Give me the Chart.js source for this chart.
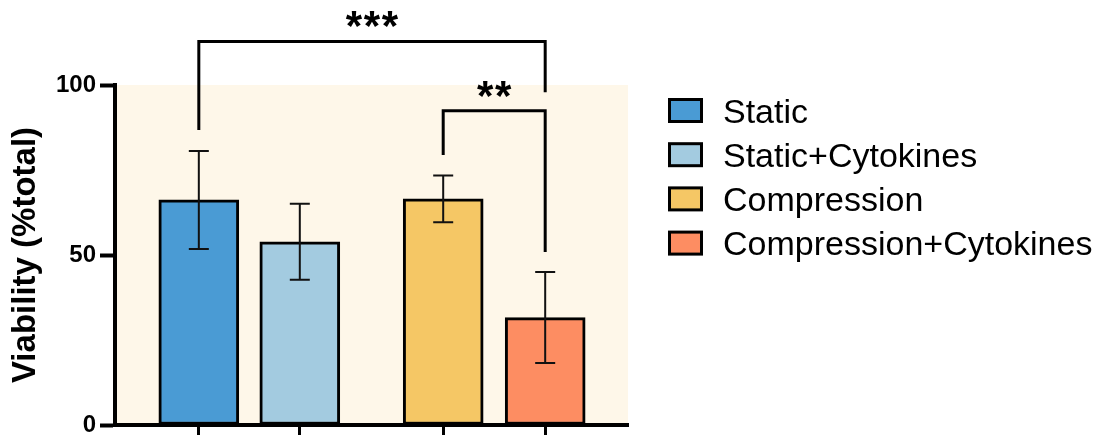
<!DOCTYPE html>
<html>
<head>
<meta charset="utf-8">
<script src="https://cdn.jsdelivr.net/npm/chart.js@4.4.1/dist/chart.umd.min.js"></script>
<style>
  html, body { margin: 0; padding: 0; background: #fff; }
</style>
</head>
<body>
<canvas id="chart" width="1097" height="435"></canvas>
<script>
const groups = ["Static", "Static+Cytokines", "Compression", "Compression+Cytokines"]
const viability = [66.2, 53.9, 66.5, 31.6]
const viabilitySd = [14.4, 11.2, 6.9, 13.4]
const yTicks = [0, 50, 100]
const barColors = ["#4A9BD4", "#A3CBE0", "#F5C765", "#FD8D62"]
// slot of each bar on the x scale (wider gap between the two pairs)
const xSlots = [0.83, 1.83, 3.25, 4.26]
// significance brackets (bar indexes, y values of top line and both ends)
const brackets = [
  { from: 0, to: 3, top: 112.8, leftEnd: 86.8, rightEnd: 97.9, label: "***" },
  { from: 2, to: 3, top: 92.4, leftEnd: 79.4, rightEnd: 50.9, label: "**" },
]

const FONT = "'Liberation Sans', Arial, sans-serif"

const areaFill = {
  id: "areaFill",
  beforeDraw(chart) {
    const { ctx, chartArea: { left, top, right, bottom } } = chart
    ctx.save()
    ctx.fillStyle = "#FEF7E9"
    ctx.fillRect(left, top, right - left, bottom - top)
    ctx.restore()
  }
}

const errorBars = {
  id: "errorBars",
  afterDatasetsDraw(chart) {
    const { ctx, scales: { x, y } } = chart
    ctx.save()
    ctx.strokeStyle = "#111"
    ctx.lineWidth = 2
    viability.forEach((v, i) => {
      const px = x.getPixelForValue(xSlots[i])
      const hi = y.getPixelForValue(v + viabilitySd[i])
      const lo = y.getPixelForValue(v - viabilitySd[i])
      ctx.beginPath()
      ctx.moveTo(px, hi); ctx.lineTo(px, lo)
      ctx.moveTo(px - 10, hi); ctx.lineTo(px + 10, hi)
      ctx.moveTo(px - 10, lo); ctx.lineTo(px + 10, lo)
      ctx.stroke()
    })
    ctx.restore()
  }
}

const annotations = {
  id: "annotations",
  afterDraw(chart) {
    const { ctx, scales: { x, y } } = chart
    ctx.save()
    // brackets + stars
    ctx.strokeStyle = "#000"
    ctx.lineWidth = 3
    ctx.font = "bold 42px " + FONT
    ctx.fillStyle = "#000"
    ctx.textAlign = "center"
    ctx.textBaseline = "alphabetic"
    const m = ctx.measureText("*")
    const starBase = (m.actualBoundingBoxAscent - m.actualBoundingBoxDescent) / 2
    brackets.forEach(b => {
      const x1 = x.getPixelForValue(xSlots[b.from])
      const x2 = x.getPixelForValue(xSlots[b.to])
      const yt = y.getPixelForValue(b.top)
      ctx.beginPath()
      ctx.moveTo(x1, y.getPixelForValue(b.leftEnd))
      ctx.lineTo(x1, yt)
      ctx.lineTo(x2, yt)
      ctx.lineTo(x2, y.getPixelForValue(b.rightEnd))
      ctx.stroke()
      const cx = (x1 + x2) / 2, cy = yt - 22
      const n = b.label.length
      for (let k = 0; k < n; k++) {
        ctx.fillText("*", cx + (k - (n - 1) / 2) * 18, cy + starBase)
      }
    })
    // legend
    ctx.font = "34px " + FONT
    ctx.textAlign = "left"
    ctx.lineWidth = 3
    groups.forEach((g, i) => {
      const cy = 110.5 + i * 44.2
      ctx.fillStyle = barColors[i]
      ctx.fillRect(669.5, cy - 11, 32, 22)
      ctx.strokeRect(669.5, cy - 11, 32, 22)
      ctx.fillStyle = "#000"
      ctx.fillText(g, 723, cy + 12)
    })
    ctx.restore()
  }
}

new Chart(document.getElementById("chart"), {
  type: "bar",
  data: {
    datasets: [{
      data: viability.map((v, i) => ({ x: xSlots[i], y: v })),
      backgroundColor: barColors,
      borderColor: "#000",
      borderWidth: 3,
      borderSkipped: false,
      barThickness: 80,
    }]
  },
  options: {
    responsive: false,
    animation: false,
    layout: { padding: { top: 85, right: 469, left: 0, bottom: 0 } },
    scales: {
      x: {
        type: "linear",
        min: 0,
        max: 5.08,
        offset: false,
        afterBuildTicks(scale) { scale.ticks = xSlots.map(v => ({ value: v })) },
        afterFit(scale) { scale.height = 10; scale.paddingLeft = 0; scale.paddingRight = 0 },
        ticks: { display: false },
        grid: { offset: false, drawOnChartArea: false, drawTicks: true, tickLength: 10, tickWidth: 3, tickColor: "#000" },
        border: { color: "#000", width: 4 },
      },
      y: {
        min: 0,
        max: 100,
        afterBuildTicks(scale) { scale.ticks = yTicks.map(v => ({ value: v })) },
        afterFit(scale) { scale.width = 115; scale.paddingTop = 0; scale.paddingBottom = 0 },
        ticks: { color: "#000", padding: 4, font: { family: FONT, size: 24, weight: "bold" } },
        grid: { drawOnChartArea: false, tickLength: 15, tickWidth: 4, tickColor: "#000" },
        border: { color: "#000", width: 4 },
        title: {
          display: true,
          text: "Viability (%total)",
          color: "#000",
          font: { family: FONT, size: 33, weight: "bold" },
          padding: { top: 6, bottom: 0 },
        },
      },
    },
    plugins: {
      legend: { display: false },
      tooltip: { enabled: false },
    },
  },
  plugins: [areaFill, errorBars, annotations],
})
</script>
</body>
</html>
